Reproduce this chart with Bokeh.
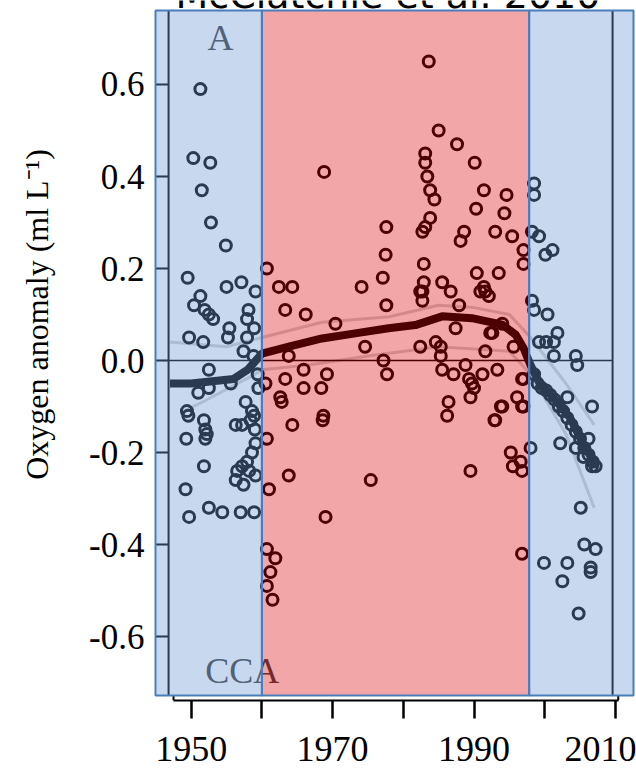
from bokeh.plotting import figure
from bokeh.models import Range1d, FixedTicker, PrintfTickFormatter, Label
from bokeh.embed import file_html
from bokeh.resources import INLINE

# ---------------- data ----------------
title_text = "McClatchie et al. 2010"
y_title = "Oxygen anomaly (ml L\u207b\u00b9)"
panel_letter = "A"
region_name = "CCA"

x_ticks = [1950, 1960, 1970, 1980, 1990, 2000, 2010]
x_hidden_labels = {1960: "", 1980: "", 2000: ""}
y_ticks = [-0.6, -0.4, -0.2, 0.0, 0.2, 0.4, 0.6]

# shaded periods (cool / warm / cool)
period_start = [1944.95, 1960.0, 1997.8]
period_end = [1960.0, 1997.8, 2012.56]
period_color = ["#6e99d2", "#de0005", "#6e99d2"]
period_alpha = [0.38, 0.35, 0.38]

# original panel frame years
frame_year = [1946.8, 2009.6]
axis_span = [1947.5, 2010.4]

# observations, early cool period
early_year = [1951.3, 1950.3, 1952.7, 1951.5, 1952.8, 1954.9, 1949.5, 1955.0, 1957.1, 1959.1,
              1951.3, 1950.4, 1951.9, 1952.5, 1953.1, 1958.1, 1957.9, 1958.9, 1955.4, 1955.2,
              1957.9, 1949.7, 1951.7, 1957.4, 1958.8, 1952.5, 1951.0, 1952.5, 1955.6, 1949.4,
              1949.6, 1957.7, 1958.6, 1951.8, 1952.0, 1952.2, 1952.0, 1956.3, 1957.2, 1958.4,
              1959.0, 1958.9, 1949.3, 1959.1, 1958.6, 1957.9, 1957.2, 1956.5, 1956.3, 1957.4,
              1959.1, 1958.2, 1951.8, 1949.2, 1952.5, 1954.4, 1957.0, 1958.9, 1949.7, 1959.4,
              1959.5]
early_anom = [0.59, 0.44, 0.43, 0.37, 0.30, 0.25, 0.18, 0.16, 0.17, 0.15,
              0.14, 0.12, 0.11, 0.10, 0.09, 0.11, 0.09, 0.07, 0.07, 0.05,
              0.05, 0.05, 0.04, 0.02, 0.01, -0.02, -0.07, -0.06, -0.05, -0.11,
              -0.12, -0.09, -0.11, -0.13, -0.15, -0.16, -0.17, -0.14, -0.14, -0.13,
              -0.15, -0.12, -0.17, -0.18, -0.20, -0.22, -0.23, -0.24, -0.26, -0.27,
              -0.25, -0.24, -0.23, -0.28, -0.32, -0.33, -0.33, -0.33, -0.34, -0.03,
              -0.06]

# observations, warm period
warm_year = [1960.7, 1962.4, 1964.3, 1963.3, 1966.2, 1968.8, 1970.4, 1974.1, 1974.6, 1977.6,
             1977.5, 1977.1, 1977.6, 1977.2, 1977.7, 1963.8, 1965.9, 1969.2, 1965.9, 1968.4,
             1968.7, 1968.6, 1975.4, 1969.0, 1963.3, 1962.6, 1962.8, 1960.5, 1964.3, 1963.8,
             1960.7, 1961.0, 1960.7, 1961.9, 1961.2, 1960.7, 1961.5,
             1982.7, 1982.7, 1987.9, 1992.1, 1987.4, 1994.0, 1992.6, 1982.4, 1985.3, 1991.6,
             1995.6, 1985.5, 1987.1, 1988.8, 1991.2, 1993.3, 1989.3, 1990.0, 1989.5, 1986.4,
             1996.1, 1996.8, 1994.0, 1986.2, 1993.0, 1996.8,
             1983.6, 1985.0, 1987.6, 1983.1, 1983.1, 1990.1, 1983.4, 1983.8, 1984.4, 1991.4,
             1994.6, 1990.3, 1994.3, 1983.8, 1983.1, 1982.7, 1988.6, 1988.1, 1993.0, 1995.4,
             1982.9, 1990.4, 1993.5, 1982.9, 1985.5, 1986.7, 1982.4, 1990.9, 1991.4, 1991.6,
             1984.6, 1985.3, 1992.3, 1989.7, 1992.9, 1993.8, 1997.0, 1997.0, 1995.2, 1995.5,
             1996.6, 1996.8, 1989.5, 1996.8, 1997.0, 1997.0]
warm_anom = [0.20, 0.16, 0.16, 0.11, 0.10, 0.41, 0.08, 0.16, 0.03, 0.29,
             0.23, 0.18, 0.12, 0.00, -0.03, 0.01, -0.02, -0.03, -0.06, -0.06,
             -0.12, -0.13, -0.26, -0.34, -0.04, -0.08, -0.09, -0.05, -0.14, -0.25,
             -0.17, -0.28, -0.41, -0.43, -0.46, -0.49, -0.52,
             0.13, 0.15, 0.12, 0.14, 0.07, 0.08, 0.06, 0.03, 0.03, 0.02,
             0.03, -0.02, -0.03, -0.01, -0.03, -0.02, -0.04, -0.06, -0.08, -0.09,
             -0.08, -0.10, -0.10, -0.12, -0.13, -0.04,
             0.65, 0.50, 0.47, 0.45, 0.43, 0.43, 0.40, 0.37, 0.35, 0.37,
             0.36, 0.33, 0.32, 0.31, 0.29, 0.28, 0.28, 0.26, 0.28, 0.27,
             0.21, 0.19, 0.19, 0.17, 0.17, 0.15, 0.15, 0.15, 0.16, 0.15,
             0.04, 0.01, 0.06, -0.05, -0.13, -0.10, -0.10, -0.04, -0.20, -0.23,
             -0.22, -0.24, -0.24, -0.42, 0.24, 0.21]

# observations, late cool period
late_year = [1998.5, 1998.5, 1998.2, 1999.2, 2000.1, 2001.1, 1998.2, 1998.5, 2000.4, 2001.8,
             1999.2, 2000.2, 2001.3, 2001.3, 2004.4, 2004.6, 2006.7, 2003.2, 2006.2, 2002.2,
             2004.4, 2005.5, 2006.7, 1998.0, 2005.1, 2005.6, 2007.2, 1999.9, 2003.2, 2006.5,
             2006.5, 2002.5, 2004.8,
             1998.5, 1999.0, 1999.6, 2000.2, 2000.8, 2001.4, 2002.0, 2002.6, 2003.2, 2003.8,
             2004.4, 2005.0, 2005.6, 2006.2, 2006.8, 2007.2]
late_anom = [0.385, 0.36, 0.28, 0.27, 0.23, 0.24, 0.13, 0.11, 0.10, 0.06,
             0.04, 0.04, 0.04, 0.01, 0.01, -0.01, -0.10, -0.08, -0.17, -0.18,
             -0.19, -0.21, -0.23, -0.19, -0.32, -0.40, -0.41, -0.44, -0.44, -0.45,
             -0.46, -0.48, -0.55,
             -0.03, -0.05, -0.06, -0.065, -0.075, -0.085, -0.10, -0.11, -0.125, -0.14,
             -0.155, -0.17, -0.19, -0.205, -0.22, -0.23]

# smoothed trend and its envelope
trend_year = [1947.0, 1950.0, 1953.0, 1956.0, 1958.0, 1960.0, 1963.8, 1968.5, 1973.2, 1977.9,
              1981.7, 1985.5, 1989.7, 1994.0, 1995.9, 1997.0, 1998.0, 1999.4, 2001.3, 2003.6,
              2005.5, 2007.2]
trend_anom = [-0.05, -0.05, -0.045, -0.04, -0.02, 0.015, 0.03, 0.048, 0.059, 0.07,
              0.077, 0.096, 0.092, 0.078, 0.056, 0.027, -0.01, -0.053, -0.082, -0.125,
              -0.183, -0.227]
upper_year = [1947.0, 1955.0, 1960.0, 1968.5, 1978.0, 1985.0, 1990.0, 1995.0, 1998.0, 2003.0, 2007.0]
upper_anom = [0.04, 0.03, 0.05, 0.083, 0.095, 0.12, 0.115, 0.10, 0.05, -0.05, -0.14]
lower_year = [1949.0, 1952.0, 1959.0, 1960.0, 1966.6, 1975.0, 1985.0, 1995.0, 1998.0, 2003.0, 2007.0]
lower_anom = [-0.11, -0.087, -0.03, -0.02, -0.01, 0.01, 0.03, 0.02, -0.03, -0.16, -0.32]

# ---------------- figure ----------------
X0, X1 = 1944.95, 2012.56
Y0, Y1 = -0.7391, 0.7826        # frame reaches the top edge so the cropped title can show
SHADE_TOP = 0.7609
SHADE_BOTTOM = -0.7283
SERIF = "Liberation Serif"
LABEL_SHIFT = 0.026   # compensates the label baseline offset of the renderer

p = figure(width=636, height=776, output_backend="svg", toolbar_location=None,
           x_range=Range1d(X0, X1), y_range=Range1d(Y0, Y1),
           min_border_left=155, min_border_right=3, min_border_top=0, min_border_bottom=76)
p.xgrid.visible = False
p.ygrid.visible = False
p.outline_line_color = None
p.background_fill_color = "white"
p.border_fill_color = "white"

xa = p.xaxis[0]
xa.ticker = FixedTicker(ticks=x_ticks)
xa.major_label_overrides = x_hidden_labels
xa.bounds = tuple(axis_span)
xa.major_tick_out = 18
xa.major_tick_in = 0
xa.major_tick_line_width = 2.5
xa.major_tick_line_color = "black"
xa.axis_line_width = 2
xa.axis_line_color = "black"
xa.minor_tick_line_color = None
xa.major_label_text_font = SERIF
xa.major_label_text_font_size = "36px"
xa.major_label_text_color = "black"
xa.major_label_standoff = 18

ya = p.yaxis[0]
ya.ticker = FixedTicker(ticks=y_ticks)
ya.formatter = PrintfTickFormatter(format="%.1f")
ya.major_tick_in = 13
ya.major_tick_out = 0
ya.major_tick_line_width = 2
ya.major_tick_line_color = "black"
ya.axis_line_color = None
ya.minor_tick_line_color = None
ya.major_label_text_font = SERIF
ya.major_label_text_font_size = "35px"
ya.major_label_text_color = "black"
ya.major_label_standoff = 11
# leading no-break spaces lift the centred title to where the reference has it
ya.axis_label = "\u00a0" * 9 + y_title
ya.axis_label_text_font = SERIF
ya.axis_label_text_font_size = "32px"
ya.axis_label_text_font_style = "normal"
ya.axis_label_text_color = "black"
ya.axis_label_standoff = 31

# envelope lines
p.line(upper_year, upper_anom, line_color="#d2d2d2", line_width=3)
p.line(lower_year, lower_anom, line_color="#d2d2d2", line_width=3)

# original frame lines and zero line
p.segment(x0=frame_year, x1=frame_year, y0=[SHADE_BOTTOM] * 2, y1=[SHADE_TOP] * 2,
          line_color="black", line_width=2)
p.segment(x0=[frame_year[0]], x1=[frame_year[1]], y0=[0.0], y1=[0.0],
          line_color="black", line_width=1.6)
# bracket ends of the x axis
p.segment(x0=axis_span, x1=axis_span, y0=[Y0] * 2, y1=[Y0 + 0.011] * 2,
          line_color="black", line_width=2)

# trend
p.line(trend_year, trend_anom, line_color="black", line_width=8, line_join="round")

# observations
all_year = early_year + warm_year + late_year
all_anom = early_anom + warm_anom + late_anom
p.scatter(all_year, all_anom, marker="circle", size=11, fill_color=None,
          line_color="black", line_width=3)

# panel texts
p.add_layout(Label(x=1952.3, y=0.674 + LABEL_SHIFT, text=panel_letter, text_font=SERIF,
                   text_font_size="36px", text_color="#404040",
                   text_align="left", text_baseline="alphabetic"))
p.add_layout(Label(x=1952.0, y=-0.702 + LABEL_SHIFT, text=region_name, text_font=SERIF,
                   text_font_size="36px", text_color="#404040",
                   text_align="left", text_baseline="alphabetic"))

# coloured period overlays
p.quad(left=period_start, right=period_end, bottom=[SHADE_BOTTOM] * 3, top=[SHADE_TOP] * 3,
       fill_color=period_color, fill_alpha=period_alpha, line_color=None,
       level="overlay")
p.quad(left=period_start, right=period_end, bottom=[SHADE_BOTTOM] * 3, top=[SHADE_TOP] * 3,
       fill_color=None, line_color="#4a7ebb", line_width=2, level="overlay")

# (cropped) title at the very top: only the lower part of the letters shows, as in the source
p.add_layout(Label(x=1977.83, y=0.7457, text=title_text, text_font="DejaVu Sans",
                   text_font_size="38px", text_color="black",
                   text_align="center", text_baseline="bottom"))

open("out.html", "w").write(file_html(p, INLINE))
